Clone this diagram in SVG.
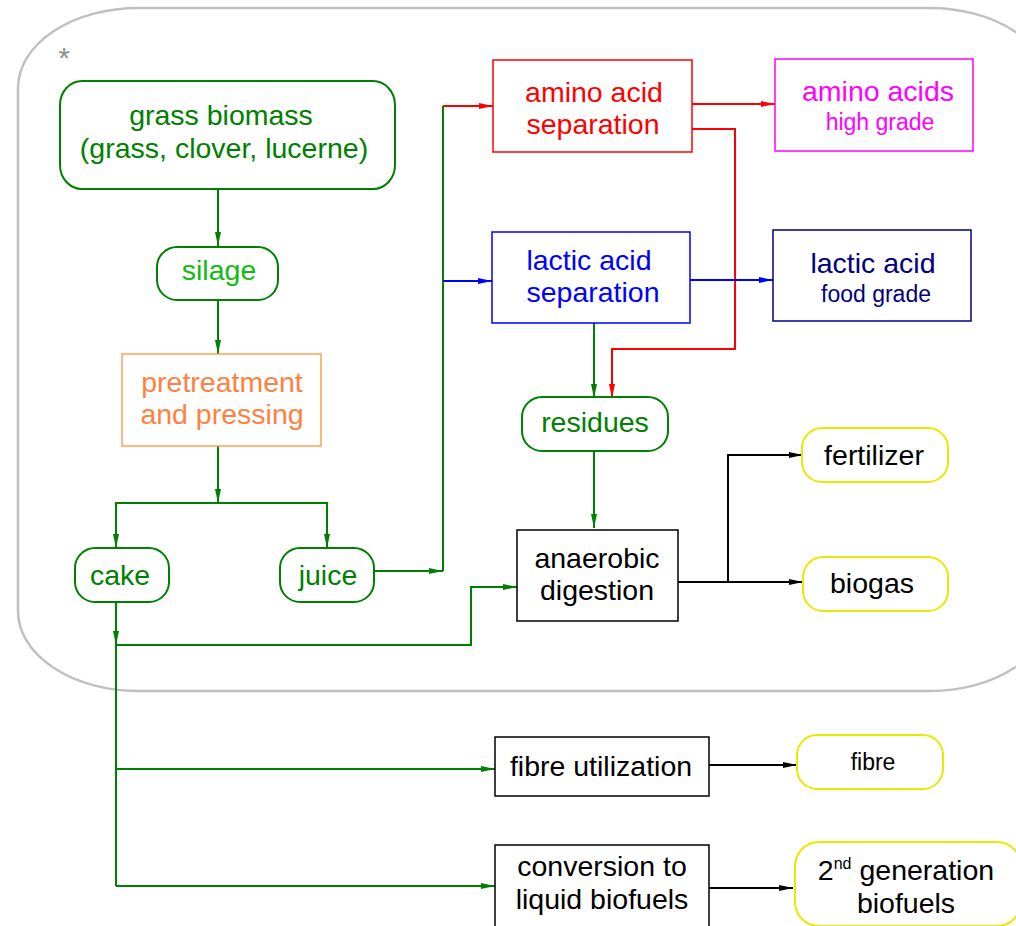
<svg xmlns="http://www.w3.org/2000/svg" width="1016" height="926" viewBox="0 0 1016 926">
<style>
text{font-family:"Liberation Sans",Arial,sans-serif;font-size:28.5px;text-anchor:middle}
.small{font-size:23px}
.g{fill:#008000}.lg{fill:#11bb11}.or{fill:#ff8040}.r{fill:#ff0000}.m{fill:#ff00ff}.b{fill:#0000ff}.n{fill:#000080}.k{fill:#000}
.box{fill:#fff;stroke-width:1.5}
.term{fill:#fff;stroke-width:2}
.cg{fill:none;stroke:#008000;stroke-width:2}
.cr{fill:none;stroke:#ff0000;stroke-width:2}
.cb{fill:none;stroke:#0000ff;stroke-width:2}
.ck{fill:none;stroke:#000;stroke-width:2}
</style>
<defs>
<marker id="ag" viewBox="0 0 14 6" refX="14" refY="3" markerWidth="14" markerHeight="6" markerUnits="userSpaceOnUse" orient="auto"><path d="M0,0L14,3L0,6z" fill="#008000"/></marker>
<marker id="ar" viewBox="0 0 14 6" refX="14" refY="3" markerWidth="14" markerHeight="6" markerUnits="userSpaceOnUse" orient="auto"><path d="M0,0L14,3L0,6z" fill="#ff0000"/></marker>
<marker id="ab" viewBox="0 0 14 6" refX="14" refY="3" markerWidth="14" markerHeight="6" markerUnits="userSpaceOnUse" orient="auto"><path d="M0,0L14,3L0,6z" fill="#0000ff"/></marker>
<marker id="ak" viewBox="0 0 14 6" refX="14" refY="3" markerWidth="14" markerHeight="6" markerUnits="userSpaceOnUse" orient="auto"><path d="M0,0L14,3L0,6z" fill="#000"/></marker>
</defs>
<rect width="1016" height="926" fill="#fff"/>
<g id="container">
<rect x="18" y="8" width="1032" height="683" rx="120" ry="80" fill="none" stroke="#c0c0c0" stroke-width="2.5"/>
<text x="64" y="68" style="font-size:30px;fill:#909090">*</text>
</g>
<g id="connectors">
<path class="cg" d="M218,189V246" marker-end="url(#ag)"/>
<path class="cg" d="M218,300V354" marker-end="url(#ag)"/>
<path class="cg" d="M218,446V503" marker-end="url(#ag)"/>
<path class="cg" d="M116,548V503H327V548"/>
<path class="cg" d="M116,520V548" marker-end="url(#ag)"/>
<path class="cg" d="M327,520V548" marker-end="url(#ag)"/>
<path class="cg" d="M374,571H443" marker-end="url(#ag)"/>
<path class="cg" d="M443,571V106"/>
<path class="cr" d="M443,106H493" marker-end="url(#ar)"/>
<path class="cb" d="M443,281H492" marker-end="url(#ab)"/>
<path class="cr" d="M692,104H775" marker-end="url(#ar)"/>
<path class="cr" d="M692,129H735V349H612V398" marker-end="url(#ar)"/>
<path class="cb" d="M690,280H773" marker-end="url(#ab)"/>
<path class="cg" d="M594,323V398" marker-end="url(#ag)"/>
<path class="cg" d="M594,451V528" marker-end="url(#ag)"/>
<path class="cg" d="M116,602V645" marker-end="url(#ag)"/>
<path class="cg" d="M116,645H471V587H517" marker-end="url(#ag)"/>
<path class="cg" d="M116,645V886"/>
<path class="cg" d="M116,769H495" marker-end="url(#ag)"/>
<path class="cg" d="M116,886H495" marker-end="url(#ag)"/>
<path class="ck" d="M678,582H803" marker-end="url(#ak)"/>
<path class="ck" d="M728,582V455H803" marker-end="url(#ak)"/>
<path class="ck" d="M709,765H797" marker-end="url(#ak)"/>
<path class="ck" d="M709,888H793" marker-end="url(#ak)"/>
</g>
<g id="grass">
<rect class="term" x="60" y="81" width="335" height="108" rx="22" ry="24" stroke="#008000"/>
<text class="g" x="221" y="125">grass biomass</text>
<text class="g" x="224" y="158">(grass, clover, lucerne)</text>
</g>
<g id="silage">
<rect class="term" x="157" y="247" width="121" height="53" rx="20" ry="20" stroke="#008000"/>
<text class="lg" x="219" y="280">silage</text>
</g>
<g id="pretreatment">
<rect class="box" x="122" y="354" width="199" height="92" stroke="#ffa050"/>
<text class="or" x="222" y="392">pretreatment</text>
<text class="or" x="222" y="424">and pressing</text>
</g>
<g id="cake">
<rect class="term" x="75" y="548" width="94" height="54" rx="20" ry="20" stroke="#008000"/>
<text class="g" x="120" y="585">cake</text>
</g>
<g id="juice">
<rect class="term" x="280" y="548" width="94" height="54" rx="20" ry="20" stroke="#008000"/>
<text class="g" x="328" y="585">juice</text>
</g>
<g id="aminosep">
<rect class="box" x="493" y="60" width="199" height="92" stroke="#ff0000"/>
<text class="r" x="594" y="102">amino acid</text>
<text class="r" x="593" y="134">separation</text>
</g>
<g id="aminoacids">
<rect class="box" x="775" y="59" width="198" height="92" stroke="#ff00ff"/>
<text class="m" x="878" y="101">amino acids</text>
<text class="m small" x="880" y="130">high grade</text>
</g>
<g id="lacticsep">
<rect class="box" x="492" y="232" width="198" height="91" stroke="#0000ff"/>
<text class="b" x="589" y="270">lactic acid</text>
<text class="b" x="593" y="302">separation</text>
</g>
<g id="lactic">
<rect class="box" x="773" y="230" width="198" height="91" stroke="#000080"/>
<text class="n" x="873" y="273">lactic acid</text>
<text class="n small" x="876" y="302">food grade</text>
</g>
<g id="residues">
<rect class="term" x="522" y="397" width="146" height="54" rx="20" ry="20" stroke="#008000"/>
<text class="g" x="595" y="432">residues</text>
</g>
<g id="anaerobic">
<rect class="box" x="517" y="530" width="161" height="91" stroke="#000"/>
<text class="k" x="597" y="568">anaerobic</text>
<text class="k" x="597" y="600">digestion</text>
</g>
<g id="fertilizer">
<rect class="term" x="802" y="428" width="146" height="54" rx="20" ry="20" stroke="#e8e800"/>
<text class="k" x="874" y="465">fertilizer</text>
</g>
<g id="biogas">
<rect class="term" x="803" y="557" width="145" height="54" rx="20" ry="20" stroke="#e8e800"/>
<text class="k" x="872" y="593">biogas</text>
</g>
<g id="fibreutil">
<rect class="box" x="495" y="737" width="214" height="59" stroke="#000"/>
<text class="k" x="601" y="776">fibre utilization</text>
</g>
<g id="fibre">
<rect class="term" x="797" y="735" width="146" height="54" rx="20" ry="20" stroke="#e8e800"/>
<text class="k small" x="873" y="770">fibre</text>
</g>
<g id="conversion">
<rect class="box" x="495" y="845" width="214" height="95" stroke="#000"/>
<text class="k" x="602" y="876">conversion to</text>
<text class="k" x="602" y="909">liquid biofuels</text>
</g>
<g id="biofuels">
<rect class="term" x="795" y="842" width="226" height="84" rx="24" ry="24" stroke="#e8e800"/>
<text class="k" x="906" y="880">2<tspan style="font-size:16px" dy="-11">nd</tspan><tspan dy="11"> generation</tspan></text>
<text class="k" x="906" y="913">biofuels</text>
</g>
</svg>
